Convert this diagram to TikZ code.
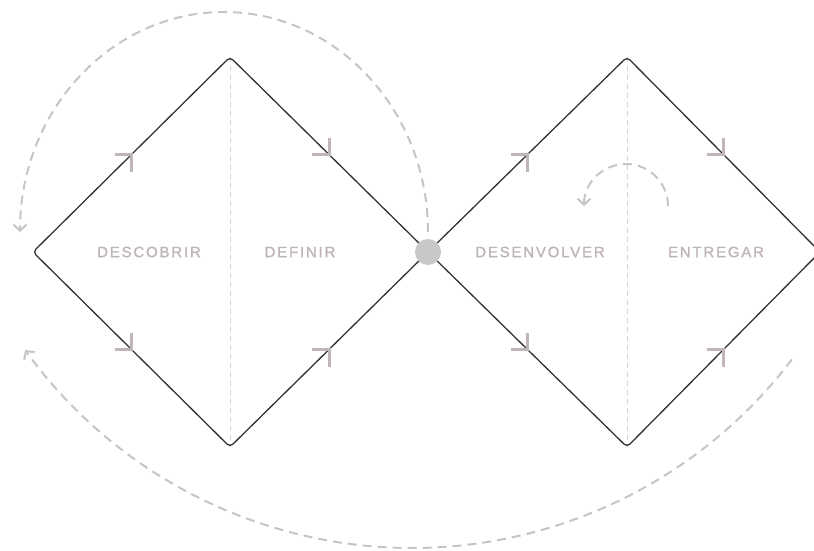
\documentclass[tikz,border=0pt]{standalone}
\usepackage{fontspec}
\usetikzlibrary{calc,arrows.meta}
\newfontfamily\labelfont[LetterSpace=12,FakeBold=1.2]{Liberation Sans}
\definecolor{edgecol}{RGB}{50,50,50}
\definecolor{markcol}{RGB}{192,182,182}
\definecolor{textcol}{RGB}{190,180,180}
\definecolor{arccol}{RGB}{200,196,196}
\definecolor{axiscol}{RGB}{212,212,212}
\definecolor{dotcol}{RGB}{200,200,200}
\begin{document}
\begin{tikzpicture}[x=1pt,y=-1pt,
  edge/.style={draw=edgecol,line width=1.3pt,rounded corners=4pt},
  flowmark/.style={draw=markcol,line width=3pt},
  axisline/.style={draw=axiscol,line width=1pt,dash pattern=on 5pt off 4pt},
  looparc/.style={draw=arccol,line width=2pt,dash pattern=on 9pt off 6pt,
    -{Straight Barb[length=6pt,width=13pt,line width=2pt]}},
  phase/.style={text=textcol,font=\labelfont\fontsize{15}{17}\selectfont,inner sep=0pt}]
\useasboundingbox (0,0) rectangle (814,551);
\clip (0,0) rectangle (814,551);
% vertices
\coordinate (L) at (33,252);
\coordinate (T1) at (230,57);
\coordinate (B1) at (230,447);
\coordinate (C) at (428,252);
\coordinate (T2) at (627,57);
\coordinate (B2) at (627,447);
\coordinate (R) at (820,252);
% inner dashed axes
\draw[axisline] (T1) -- (B1);
\draw[axisline] (T2) -- (B2);
% diamonds
\draw[edge] (L) -- (T1) -- (C) -- (B1) -- cycle;
\draw[edge] (C) -- (T2) -- (R) -- (B2) -- cycle;
% flow marks at edge midpoints
\coordinate (m1) at ($(L)!0.5!(T1)$);
\coordinate (m2) at ($(T1)!0.5!(C)$);
\coordinate (m3) at ($(L)!0.5!(B1)$);
\coordinate (m4) at ($(B1)!0.5!(C)$);
\coordinate (m5) at ($(C)!0.5!(T2)$);
\coordinate (m6) at ($(T2)!0.5!(R)$);
\coordinate (m7) at ($(C)!0.5!(B2)$);
\coordinate (m8) at ($(B2)!0.5!(R)$);
% up-right marks
\foreach \m in {m1,m4,m5,m8}{
  \draw[flowmark] ($(\m)+(-17,0)$) -- (\m) -- ($(\m)+(0,17)$);
}
% down-right marks
\foreach \m in {m2,m3,m6,m7}{
  \draw[flowmark] ($(\m)+(-17,0)$) -- (\m) -- ($(\m)+(0,-17)$);
}
% center dot
\node[circle,fill=dotcol,minimum size=26pt,inner sep=0pt] (dot) at (C) {};
% labels
\node[phase] (descobrir) at (149,252) {DESCOBRIR};
\node[phase] (definir) at (300,252) {DEFINIR};
\node[phase] (desenvolver) at (540,252) {DESENVOLVER};
\node[phase] (entregar) at (716,252) {ENTREGAR};
% loop arcs
\coordinate (a1s) at (428,232);
\draw[looparc] (a1s) arc[start angle=0,end angle=-180,x radius=204,y radius=220];
\coordinate (a2s) at (668,206);
\draw[looparc] (a2s) arc[start angle=0,end angle=-180,radius=42];
\coordinate (a3c) at (412,71);
\draw[looparc] ($(a3c)+(37.2:477)$) arc[start angle=37.2,end angle=144.2,radius=477];
\end{tikzpicture}
\end{document}
